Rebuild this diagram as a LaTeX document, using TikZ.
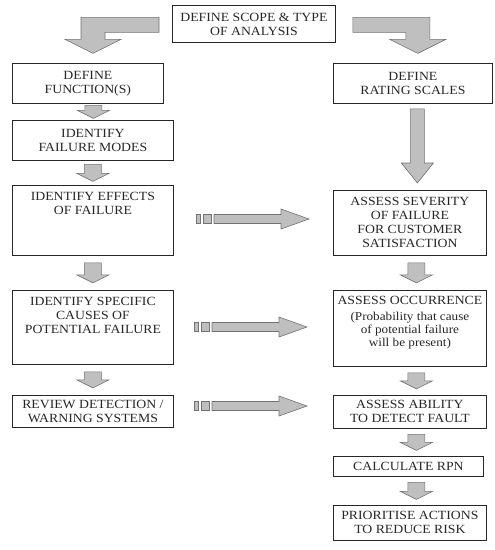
\documentclass[tikz,border=0pt]{standalone}
\usepackage{fontspec}
\setmainfont{Liberation Serif}[FakeStretch=1.1]
\newfontfamily\serifface{Liberation Serif}[FakeStretch=1.1]
\usetikzlibrary{calc}

% small grey block arrow pointing down, centred in the gap between
% node #2 and node #3, shifted right by #1, total length #4
\newcommand\smalldown[4][0]{%
  \path[blk] let \p1=(#2.south), \p2=(#3.north),
      \n1={(\y1+\y2)/2+#4pt/2}, \n2={(\y1+\y2)/2-#4pt/2}, \n3={\x1+#1pt} in
    ({\n3-8.5pt},{\n1}) -- ({\n3+8.5pt},{\n1})
    -- ({\n3+8.5pt},{\n2+8pt}) -- ({\n3+16pt},{\n2+8pt})
    -- ({\n3},{\n2}) -- ({\n3-16pt},{\n2+8pt})
    -- ({\n3-8.5pt},{\n2+8pt}) -- cycle;}

% block arrow pointing right with a broken tail, starting at coordinate #1
\newcommand\sidearrow[1]{%
  \draw[blk] (#1) ++(0,-4.5) rectangle ++(4,9);
  \draw[blk] (#1) ++(7,-4.5) rectangle ++(8,9);
  \draw[blk] (#1) ++(18,-4.5) -- ++(67,0) -- ++(0,-5.5) -- ++(28,10)
    -- ++(-28,10) -- ++(0,-5.5) -- ++(-67,0) -- cycle;}

\begin{document}
\begin{tikzpicture}[x=1pt,y=-1pt,
  box/.style={draw=black!85, line width=0.8pt, anchor=north west, inner sep=0pt,
    align=center, text=black!85, font=\serifface\fontsize{12.5}{14}\selectfont},
  lbl/.style={anchor=north, align=center, inner sep=0pt, text=black!85,
    font=\serifface\fontsize{12.5}{14}\selectfont},
  note/.style={anchor=north, align=center, inner sep=0pt, text=black!85,
    font=\serifface\fontsize{12}{13}\selectfont},
  blk/.style={draw=black!55, fill=black!25, line width=0.6pt, line join=miter}]
\useasboundingbox (0,0) rectangle (495,550);

% ---------- top ----------
\node[box, minimum width=163pt, minimum height=37pt] (scope) at (172,5)
  {DEFINE SCOPE \& TYPE\\OF ANALYSIS};

% ---------- left column ----------
\node[box, minimum width=151pt, minimum height=40pt] (func) at (12,63)
  {DEFINE\\FUNCTION(S)};
\node[box, minimum width=161pt, minimum height=40pt] (modes) at (12,120)
  {IDENTIFY\\FAILURE MODES};
\node[box, minimum width=161pt, minimum height=70pt] (effects) at (12,185) {};
\node[lbl] (effects-t) at ([yshift=-7pt]effects.north)
  {IDENTIFY EFFECTS\\OF FAILURE};
\node[box, minimum width=161pt, minimum height=74pt] (causes) at (12,290) {};
\node[lbl] (causes-t) at ([yshift=-7pt]causes.north)
  {IDENTIFY SPECIFIC\\CAUSES OF\\POTENTIAL FAILURE};
\node[box, minimum width=161pt, minimum height=32pt] (review) at (12,395)
  {REVIEW DETECTION /\\WARNING SYSTEMS};

% ---------- right column ----------
\node[box, minimum width=159pt, minimum height=40pt] (rating) at (333,63)
  {DEFINE\\RATING SCALES};
\node[box, minimum width=153pt, minimum height=65pt] (severity) at (333,190)
  {ASSESS SEVERITY\\OF FAILURE\\FOR CUSTOMER\\SATISFACTION};
\node[box, minimum width=153pt, minimum height=76pt] (occur) at (333,290) {};
\node[lbl] (occur-t) at ([yshift=-6pt]occur.north) {ASSESS OCCURRENCE};
\node[note] (occur-n) at ([yshift=-7pt]occur-t.south)
  {(Probability that cause\\of potential failure\\will be present)};
\node[box, minimum width=153pt, minimum height=33pt] (detect) at (333,395)
  {ASSESS ABILITY\\TO DETECT FAULT};
\node[box, minimum width=150pt, minimum height=20pt] (rpn) at (333,456)
  {CALCULATE RPN};
\node[box, minimum width=153pt, minimum height=35pt] (prior) at (333,505)
  {PRIORITISE ACTIONS\\TO REDUCE RISK};

% ---------- bent arrows out of the scope box ----------
\draw[blk] ([xshift=-13pt,yshift=6.5pt]scope.west) -- ++(-78,0) -- ++(0,22)
  -- ++(-16,0) -- ++(28,14) -- ++(28,-14) -- ++(-16,0) -- ++(0,-7)
  -- ++(54,0) -- cycle;
\draw[blk] ([xshift=17pt,yshift=6.5pt]scope.east) -- ++(77,0) -- ++(0,22)
  -- ++(16,0) -- ++(-28,14) -- ++(-28,-14) -- ++(16,0) -- ++(0,-7)
  -- ++(-53,0) -- cycle;

% ---------- long arrow under the rating scales ----------
\path[blk] let \p1=(rating.south), \p2=(severity.north) in
  ({\x1+4.5pt-7pt},{\y1-5pt}) -- ({\x1+4.5pt+7pt},{\y1-5pt})
  -- ({\x1+4.5pt+7pt},{\y2+27pt}) -- ({\x1+4.5pt+16pt},{\y2+27pt})
  -- ({\x1+4.5pt},{\y2+7pt}) -- ({\x1+4.5pt-16pt},{\y2+27pt})
  -- ({\x1+4.5pt-7pt},{\y2+27pt}) -- cycle;

% ---------- small down arrows ----------
\smalldown[5.5]{func}{modes}{13}
\smalldown{modes}{effects}{17}
\smalldown{effects}{causes}{20}
\smalldown{causes}{review}{16}
\smalldown[6.5]{severity}{occur}{20}
\smalldown[6.5]{occur}{detect}{16}
\smalldown[6.5]{detect}{rpn}{16}
\smalldown[8]{rpn}{prior}{17}

% ---------- arrows from the left column to the right column ----------
\coordinate (h1) at (196,219);
\coordinate (h2) at (194,327);
\coordinate (h3) at (194,406);
\sidearrow{h1}
\sidearrow{h2}
\sidearrow{h3}
\end{tikzpicture}
\end{document}
